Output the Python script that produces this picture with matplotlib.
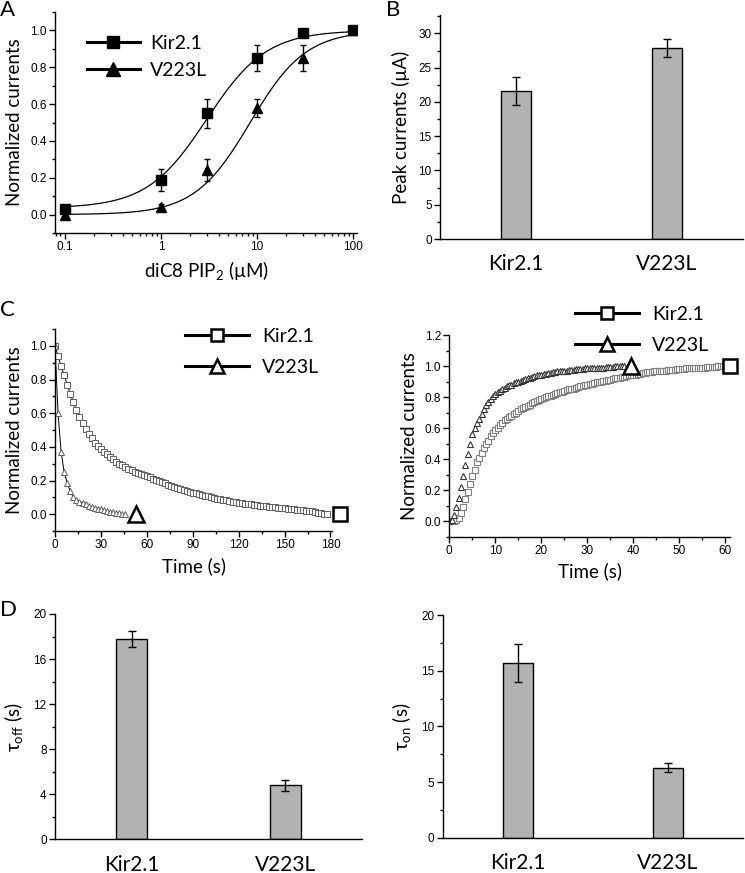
import numpy as np
import matplotlib
matplotlib.use('Agg')
import matplotlib.pyplot as plt
from matplotlib.lines import Line2D
from matplotlib.ticker import MultipleLocator, LogLocator, NullFormatter

# ---------------- data ----------------
groups = ['Kir2.1', 'V223L']

# Panel A: dose response
pip_conc = [0.1, 1, 3, 10, 30, 100]
dose_kir = [0.03, 0.19, 0.55, 0.85, 0.985, 1.0]
dose_kir_err = [0.01, 0.06, 0.08, 0.07, 0.01, 0.01]
dose_v223l = [0.0, 0.04, 0.24, 0.58, 0.85, 1.0]
dose_v223l_err = [0.02, 0.02, 0.06, 0.05, 0.07, 0.02]
# Hill fit parameters (base, EC50, n)
fit_base = [0.035, 0.0]
fit_ec50 = [3.0, 8.5]
fit_n = [1.4, 1.5]

# Panel B: peak currents
peak = [21.6, 27.9]
peak_err = [2.0, 1.3]

# Panel C left: current decay (sampled every 2 s)
off_step = 2.0
off_kir = [1.0, 0.94, 0.88, 0.825, 0.77, 0.715, 0.665, 0.62, 0.58, 0.54,
           0.505, 0.475, 0.45, 0.425, 0.405, 0.385, 0.37, 0.355, 0.34, 0.325,
           0.31, 0.30, 0.29, 0.28, 0.27, 0.26, 0.252, 0.245, 0.238, 0.231,
           0.225, 0.218, 0.211, 0.204, 0.197, 0.19, 0.183, 0.176, 0.169, 0.162,
           0.155, 0.15, 0.144, 0.139, 0.133, 0.128, 0.123, 0.118, 0.114, 0.109,
           0.105, 0.101, 0.097, 0.093, 0.089, 0.085, 0.082, 0.079, 0.075, 0.072,
           0.069, 0.066, 0.063, 0.06, 0.058, 0.055, 0.053, 0.05, 0.048, 0.046,
           0.044, 0.042, 0.040, 0.038, 0.036, 0.034, 0.032, 0.030, 0.028, 0.026,
           0.024, 0.022, 0.02, 0.018, 0.016, 0.012, 0.009, 0.006, 0.003, 0.0]
off_v223l = [1.0, 0.60, 0.37, 0.25, 0.185, 0.135, 0.10, 0.085, 0.075, 0.066,
             0.058, 0.05, 0.044, 0.038, 0.033, 0.028, 0.023, 0.019, 0.015, 0.011,
             0.008, 0.005, 0.003, 0.0]

# Panel C right: current rise (sampled every 0.5 s)
on_step = 0.5
on_kir = [0.00, 0.00, 0.00, 0.01, 0.02, 0.05, 0.09, 0.14, 0.19, 0.24,
          0.29, 0.33, 0.38, 0.41, 0.44, 0.47, 0.50, 0.52, 0.55, 0.57,
          0.59, 0.60, 0.62, 0.635, 0.65, 0.66, 0.67, 0.68, 0.69, 0.70,
          0.71, 0.72, 0.73, 0.735, 0.745, 0.75, 0.76, 0.77, 0.775, 0.78,
          0.79, 0.795, 0.80, 0.805, 0.81, 0.815, 0.82, 0.825, 0.83, 0.835,
          0.84, 0.845, 0.85, 0.85, 0.855, 0.86, 0.865, 0.87, 0.87, 0.875,
          0.88, 0.885, 0.885, 0.89, 0.895, 0.895, 0.90, 0.905, 0.905, 0.91,
          0.91, 0.915, 0.92, 0.92, 0.925, 0.93, 0.93, 0.935, 0.94, 0.94,
          0.945, 0.945, 0.95, 0.95, 0.955, 0.955, 0.96, 0.96, 0.96, 0.965,
          0.965, 0.965, 0.97, 0.97, 0.97, 0.975, 0.975, 0.975, 0.975, 0.98,
          0.98, 0.98, 0.98, 0.985, 0.985, 0.985, 0.985, 0.99, 0.99, 0.99,
          0.99, 0.99, 0.995, 0.995, 0.995, 0.995, 0.995, 1.0, 1.0, 1.0,
          1.0]
on_v223l = [0.00, 0.01, 0.04, 0.09, 0.15, 0.22, 0.29, 0.36, 0.43, 0.50,
            0.56, 0.60, 0.63, 0.66, 0.69, 0.72, 0.75, 0.77, 0.79, 0.805,
            0.82, 0.83, 0.84, 0.85, 0.86, 0.87, 0.875, 0.88, 0.89, 0.895,
            0.90, 0.905, 0.91, 0.915, 0.92, 0.925, 0.93, 0.935, 0.94, 0.94,
            0.945, 0.95, 0.95, 0.955, 0.955, 0.96, 0.96, 0.965, 0.965, 0.97,
            0.97, 0.97, 0.975, 0.975, 0.975, 0.98, 0.98, 0.98, 0.98, 0.985,
            0.985, 0.985, 0.985, 0.99, 0.99, 0.99, 0.99, 0.99, 0.995, 0.995,
            0.995, 0.995, 1.0, 1.0, 1.0, 1.0,
            1.0]

# Panel D: time constants
tau_off = [17.8, 4.8]
tau_off_err = [0.7, 0.5]
tau_on = [15.7, 6.3]
tau_on_err = [1.7, 0.4]

# ---------------- style ----------------
plt.rcParams['font.family'] = ['Lato', 'DejaVu Sans']
plt.rcParams['mathtext.fontset'] = 'custom'
plt.rcParams['mathtext.rm'] = 'Lato'
plt.rcParams['mathtext.it'] = 'Lato:italic'
plt.rcParams['mathtext.bf'] = 'Lato:bold'
plt.rcParams['mathtext.fallback'] = 'stixsans'

W, H = 745, 873
fig = plt.figure(figsize=(W / 100, H / 100), dpi=100)

LABEL_FS = 13.5
TICK_FS = 8.5
CAT_FS = 15
LEG_FS = 14
BAR_COLOR = '#b2b2b2'


def ax_px(l, r, t, b):
    return fig.add_axes([l / W, 1 - b / H, (r - l) / W, (b - t) / H])


def style(ax):
    for s in ['top', 'right']:
        ax.spines[s].set_visible(False)
    for s in ['left', 'bottom']:
        ax.spines[s].set_linewidth(1.0)
    ax.tick_params(which='both', direction='out', width=1.0,
                   labelsize=TICK_FS, labelfontfamily='Liberation Sans')
    ax.tick_params(which='major', length=4, pad=2)
    ax.tick_params(which='minor', length=2.2)


def fig_legend(handles, labels, x_px, y_px, fs, hl, ls, tp=0.6):
    fig.legend(handles, labels, loc='upper left',
               bbox_to_anchor=(x_px / W, 1 - y_px / H), bbox_transform=fig.transFigure,
               frameon=False, fontsize=fs, handlelength=hl, handletextpad=tp,
               labelspacing=ls, borderpad=0, borderaxespad=0)


def bar_panel(ax, vals, errs, ymax, major, ylabel):
    xpos = np.arange(1, len(vals) + 1)
    ax.bar(xpos, vals, width=0.2, color=BAR_COLOR, edgecolor='k', linewidth=1.0,
           yerr=errs, capsize=3, error_kw=dict(elinewidth=1.0, capthick=1.0, ecolor='k'))
    style(ax)
    ax.set_xlim(0.5, 2.5)
    ax.set_ylim(0, ymax)
    ax.yaxis.set_major_locator(MultipleLocator(major))
    ax.yaxis.set_minor_locator(MultipleLocator(major / 2))
    ax.set_xticks(xpos)
    ax.set_xticklabels(groups, fontsize=CAT_FS, fontfamily='Lato')
    ax.tick_params(axis='x', length=0, pad=11)
    ax.set_ylabel(ylabel, fontsize=LABEL_FS, labelpad=6)


# ---------------- Panel A ----------------
axA = ax_px(55, 357, 12, 233)
axA.set_xscale('log')
xfit = np.logspace(-1, 2, 300)
for b, k, n in zip(fit_base, fit_ec50, fit_n):
    axA.plot(xfit, b + (1 - b) / (1 + (k / xfit) ** n), color='k', lw=0.9)
axA.errorbar(pip_conc, dose_kir, yerr=dose_kir_err, fmt='s', color='k', ms=6.5,
             capsize=2.5, elinewidth=1.0, capthick=1.0)
axA.errorbar(pip_conc, dose_v223l, yerr=dose_v223l_err, fmt='^', color='k', ms=7,
             capsize=2.5, elinewidth=1.0, capthick=1.0)
style(axA)
axA.set_xlim(0.079, 110)
axA.set_ylim(-0.1, 1.1)
axA.set_xticks([0.1, 1, 10, 100])
axA.set_xticklabels(['0.1', '1', '10', '100'])
axA.xaxis.set_minor_locator(LogLocator(base=10, subs=np.arange(2, 10)))
axA.xaxis.set_minor_formatter(NullFormatter())
axA.yaxis.set_major_locator(MultipleLocator(0.2))
axA.yaxis.set_minor_locator(MultipleLocator(0.1))
axA.yaxis.set_major_formatter(matplotlib.ticker.FormatStrFormatter('%.1f'))
axA.set_ylabel('Normalized currents', fontsize=LABEL_FS, labelpad=5)
axA.set_xlabel('diC8 PIP$_2$ (\u00b5M)', fontsize=LABEL_FS, labelpad=4)
hA = [Line2D([], [], color='k', lw=2.2, marker='s', ms=9),
      Line2D([], [], color='k', lw=2.2, marker='^', ms=10)]
fig_legend(hA, groups, 87, 35, LEG_FS, 2.7, 0.5, 0.55)

# ---------------- Panel B ----------------
axB = ax_px(440, 742.7, 15, 239)
bar_panel(axB, peak, peak_err, 32.7, 5, 'Peak currents (\u00b5A)')

# ---------------- Panel C left ----------------
axC1 = ax_px(55, 332, 329, 531)
t_off_kir = np.arange(len(off_kir)) * off_step
t_off_v = np.arange(len(off_v223l)) * off_step
axC1.plot(t_off_kir, off_kir, color='k', lw=0.7, marker='s', ms=4, mfc='white',
          mec='#606060', mew=0.7)
axC1.plot(t_off_v, off_v223l, color='k', lw=0.7, marker='^', ms=4.5, mfc='white',
          mec='#606060', mew=0.7)
axC1.plot(t_off_kir[-1] + 8, off_kir[-1], 's', ms=10, mfc='white', mec='k', mew=1.8, clip_on=False)
axC1.plot(t_off_v[-1] + 7, off_v223l[-1], '^', ms=11, mfc='white', mec='k', mew=1.8, clip_on=False)
style(axC1)
axC1.set_xlim(0, 181)
axC1.set_ylim(-0.1, 1.1)
axC1.xaxis.set_major_locator(MultipleLocator(30))
axC1.xaxis.set_minor_locator(MultipleLocator(15))
axC1.yaxis.set_major_locator(MultipleLocator(0.2))
axC1.yaxis.set_minor_locator(MultipleLocator(0.1))
axC1.yaxis.set_major_formatter(matplotlib.ticker.FormatStrFormatter('%.1f'))
axC1.set_ylabel('Normalized currents', fontsize=LABEL_FS, labelpad=5)
axC1.set_xlabel('Time (s)', fontsize=LABEL_FS, labelpad=4)
hC = [Line2D([], [], color='k', lw=2.2, marker='s', ms=9, mfc='white', mec='k', mew=1.8),
      Line2D([], [], color='k', lw=2.2, marker='^', ms=10, mfc='white', mec='k', mew=1.8)]
fig_legend(hC, groups, 185, 328, LEG_FS, 3.3, 0.72, 0.65)

# ---------------- Panel C right ----------------
axC2 = ax_px(449.3, 730, 335, 536.7)
t_on_kir = np.arange(len(on_kir)) * on_step
t_on_v = np.arange(len(on_v223l)) * on_step
axC2.plot(t_on_kir, on_kir, ls='none', marker='s', ms=4.2, mfc='white',
          mec='#808080', mew=0.8)
axC2.plot(t_on_v, on_v223l, ls='none', marker='^', ms=4.8, mfc='white',
          mec='#353535', mew=0.8)
axC2.plot(t_on_kir[-1] + 1, on_kir[-1], 's', ms=10, mfc='white', mec='k', mew=1.8, clip_on=False)
axC2.plot(t_on_v[-1] + 1.5, on_v223l[-1], '^', ms=11, mfc='white', mec='k', mew=1.8, clip_on=False)
style(axC2)
axC2.set_xlim(0, 61)
axC2.set_ylim(-0.1, 1.2)
axC2.xaxis.set_major_locator(MultipleLocator(10))
axC2.xaxis.set_minor_locator(MultipleLocator(5))
axC2.yaxis.set_major_locator(MultipleLocator(0.2))
axC2.yaxis.set_minor_locator(MultipleLocator(0.1))
axC2.yaxis.set_major_formatter(matplotlib.ticker.FormatStrFormatter('%.1f'))
axC2.set_ylabel('Normalized currents', fontsize=LABEL_FS, labelpad=5)
axC2.set_xlabel('Time (s)', fontsize=LABEL_FS, labelpad=4)
fig_legend(hC, groups, 575, 306, LEG_FS, 3.3, 0.72, 0.65)

# ---------------- Panel D ----------------
axD1 = ax_px(55, 362, 614, 839.3)
bar_panel(axD1, tau_off, tau_off_err, 20, 4, '\u03c4$_{\\mathrm{off}}$ (s)')
axD2 = ax_px(442.7, 742.7, 615, 837.7)
bar_panel(axD2, tau_on, tau_on_err, 20, 5, '\u03c4$_{\\mathrm{on}}$ (s)')

# panel letters
for letter, x, y in [('A', 0, 0), ('B', 386, 0), ('C', 0, 300), ('D', 0, 600)]:
    fig.text(x / W, 1 - y / H, letter, fontsize=16, ha='left', va='top')

fig.savefig('out.png', dpi=100)
